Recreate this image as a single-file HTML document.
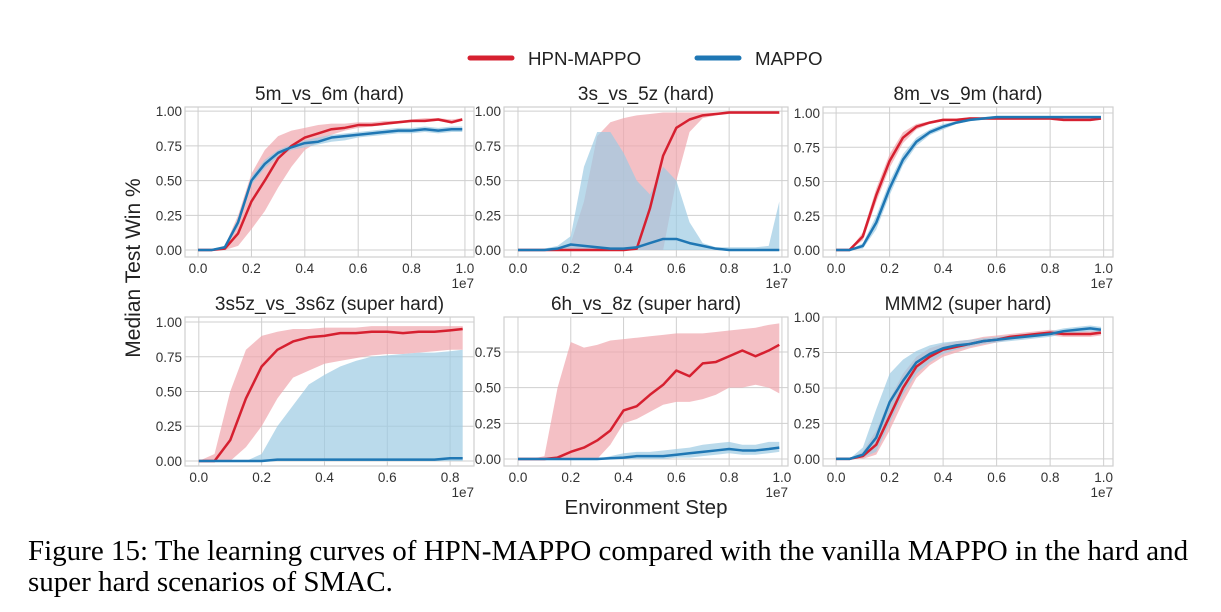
<!DOCTYPE html>
<html><head><meta charset="utf-8">
<style>
body{margin:0;background:#fff;width:1221px;height:612px;overflow:hidden;font-family:"Liberation Sans",sans-serif}
svg{position:absolute;left:0;top:0}
.cap{position:absolute;left:28px;font-family:"Liberation Serif",serif;font-size:29px;line-height:30px;color:#000;white-space:nowrap}
</style></head><body>
<svg id="fig" width="1221" height="612"></svg>
<div class="cap" style="top:536px">Figure 15: The learning curves of HPN-MAPPO compared with the vanilla MAPPO in the hard and</div>
<div class="cap" style="top:567px">super hard scenarios of SMAC.</div>
<script>
const xs21=[0,0.05,0.1,0.15,0.2,0.25,0.3,0.35,0.4,0.45,0.5,0.55,0.6,0.65,0.7,0.75,0.8,0.85,0.9,0.95,0.99];
const xs18=[0,0.05,0.1,0.15,0.2,0.25,0.3,0.35,0.4,0.45,0.5,0.55,0.6,0.65,0.7,0.75,0.8,0.84];
// panel 1: 5m_vs_6m
const p1RedMean=[0,0,0.01,0.12,0.35,0.5,0.66,0.75,0.81,0.84,0.87,0.88,0.9,0.9,0.91,0.92,0.93,0.93,0.94,0.92,0.94];
const p1RedLo=[0,0,0,0.03,0.15,0.28,0.45,0.6,0.72,0.78,0.83,0.86,0.88,0.89,0.9,0.91,0.92,0.92,0.93,0.91,0.93];
const p1RedHi=[0,0,0.03,0.25,0.55,0.72,0.82,0.86,0.88,0.9,0.91,0.91,0.92,0.92,0.93,0.93,0.94,0.95,0.95,0.94,0.95];
const p1BlueMean=[0,0,0.02,0.2,0.5,0.62,0.7,0.74,0.77,0.78,0.81,0.82,0.83,0.84,0.85,0.86,0.86,0.87,0.86,0.87,0.87];
const p1BlueLo=[0,0,0.01,0.17,0.47,0.59,0.67,0.72,0.74,0.76,0.78,0.79,0.81,0.82,0.83,0.84,0.84,0.85,0.84,0.85,0.85];
const p1BlueHi=[0,0,0.03,0.23,0.53,0.65,0.72,0.76,0.79,0.81,0.83,0.84,0.85,0.86,0.87,0.88,0.88,0.89,0.88,0.89,0.89];
// panel 2: 3s_vs_5z
const p2RedMean=[0,0,0,0,0,0,0,0,0,0.01,0.3,0.68,0.88,0.94,0.97,0.98,0.99,0.99,0.99,0.99,0.99];
const p2RedLo=[0,0,0,0,0,0,0,0,0,0,0,0,0.5,0.85,0.95,0.97,0.98,0.98,0.98,0.98,0.98];
const p2RedHi=[0,0,0,0,0.05,0.35,0.82,0.92,0.95,0.97,0.98,0.99,0.99,0.99,0.99,0.99,0.99,0.99,0.99,0.99,0.99];
const p2BlueMean=[0,0,0,0.01,0.04,0.03,0.02,0.01,0.01,0.02,0.05,0.08,0.08,0.05,0.03,0.01,0,0,0,0,0];
const p2BlueLo=[0,0,0,0,0,0,0,0,0,0,0,0,0,0,0,0,0,0,0,0,0];
const p2BlueHi=[0,0,0.01,0.03,0.1,0.6,0.85,0.85,0.7,0.5,0.4,0.6,0.5,0.2,0.05,0.02,0.02,0.02,0.02,0.03,0.35];
// panel 3: 8m_vs_9m
const p3RedMean=[0,0,0.1,0.4,0.65,0.82,0.9,0.93,0.95,0.95,0.96,0.96,0.96,0.96,0.96,0.96,0.96,0.95,0.95,0.95,0.96];
const p3RedLo=[0,0,0.07,0.35,0.6,0.78,0.88,0.92,0.94,0.94,0.95,0.95,0.95,0.95,0.95,0.95,0.95,0.94,0.94,0.94,0.95];
const p3RedHi=[0,0,0.13,0.45,0.7,0.86,0.92,0.94,0.96,0.96,0.97,0.97,0.97,0.97,0.97,0.97,0.97,0.96,0.96,0.96,0.97];
const p3BlueMean=[0,0,0.03,0.2,0.45,0.66,0.79,0.86,0.9,0.93,0.95,0.96,0.97,0.97,0.97,0.97,0.97,0.97,0.97,0.97,0.97];
const p3BlueLo=[0,0,0.01,0.15,0.4,0.62,0.76,0.84,0.88,0.92,0.94,0.95,0.96,0.96,0.96,0.96,0.96,0.96,0.96,0.96,0.96];
const p3BlueHi=[0,0,0.05,0.25,0.5,0.7,0.82,0.88,0.92,0.94,0.96,0.97,0.98,0.98,0.98,0.98,0.98,0.98,0.98,0.98,0.98];
// panel 4: 3s5z_vs_3s6z
const p4RedMean=[0,0,0.15,0.45,0.68,0.8,0.86,0.89,0.9,0.92,0.92,0.93,0.93,0.92,0.93,0.93,0.94,0.95];
const p4RedLo=[0,0,0,0.1,0.25,0.45,0.6,0.65,0.7,0.72,0.74,0.76,0.77,0.77,0.78,0.79,0.8,0.8];
const p4RedHi=[0,0.05,0.5,0.8,0.9,0.93,0.95,0.95,0.96,0.96,0.96,0.97,0.97,0.97,0.97,0.97,0.97,0.97];
const p4BlueMean=[0,0,0,0,0,0.01,0.01,0.01,0.01,0.01,0.01,0.01,0.01,0.01,0.01,0.01,0.02,0.02];
const p4BlueLo=[0,0,0,0,0,0,0,0,0,0,0,0,0,0,0,0,0,0];
const p4BlueHi=[0,0,0,0,0.05,0.25,0.4,0.55,0.62,0.68,0.72,0.75,0.76,0.77,0.78,0.78,0.79,0.8];
// panel 5: 6h_vs_8z
const p5RedMean=[0,0,0,0.01,0.05,0.08,0.13,0.2,0.34,0.37,0.45,0.52,0.62,0.58,0.67,0.68,0.72,0.76,0.72,0.76,0.8];
const p5RedLo=[0,0,0,0,0,0,0,0.1,0.25,0.28,0.33,0.38,0.4,0.4,0.42,0.45,0.5,0.5,0.52,0.5,0.46];
const p5RedHi=[0,0,0.02,0.5,0.82,0.78,0.8,0.83,0.84,0.85,0.86,0.87,0.88,0.88,0.88,0.89,0.9,0.91,0.92,0.94,0.95];
const p5BlueMean=[0,0,0,0,0,0,0,0.005,0.01,0.02,0.02,0.02,0.03,0.04,0.05,0.06,0.07,0.06,0.06,0.07,0.08];
const p5BlueLo=[0,0,0,0,0,0,0,0,0,0,0,0,0.01,0.01,0.02,0.03,0.04,0.03,0.03,0.04,0.05];
const p5BlueHi=[0,0,0,0,0,0,0,0.02,0.04,0.05,0.05,0.06,0.07,0.08,0.1,0.11,0.12,0.1,0.1,0.12,0.12];
// panel 6: MMM2
const p6RedMean=[0,0,0.02,0.1,0.3,0.5,0.65,0.72,0.77,0.79,0.81,0.83,0.84,0.86,0.87,0.88,0.89,0.88,0.88,0.88,0.89];
const p6RedLo=[0,0,0,0.03,0.2,0.4,0.57,0.66,0.72,0.75,0.78,0.8,0.82,0.84,0.85,0.86,0.87,0.86,0.86,0.86,0.87];
const p6RedHi=[0,0,0.05,0.2,0.42,0.6,0.72,0.78,0.81,0.83,0.84,0.86,0.87,0.88,0.89,0.9,0.91,0.9,0.9,0.9,0.91];
const p6BlueMean=[0,0,0.03,0.15,0.4,0.55,0.68,0.74,0.78,0.8,0.81,0.83,0.84,0.85,0.86,0.87,0.88,0.9,0.91,0.92,0.91];
const p6BlueLo=[0,0,0.01,0.05,0.25,0.45,0.6,0.68,0.74,0.77,0.79,0.81,0.82,0.83,0.84,0.85,0.86,0.88,0.89,0.9,0.89];
const p6BlueHi=[0,0,0.08,0.35,0.6,0.7,0.76,0.8,0.82,0.83,0.84,0.85,0.86,0.87,0.88,0.89,0.9,0.92,0.93,0.94,0.93];
const xTicks=[0,0.2,0.4,0.6,0.8,1.0];
const xTicks4=[0,0.2,0.4,0.6,0.8];
const yTicks=[0,0.25,0.5,0.75,1.0];
const yTicks5=[0,0.25,0.5,0.75];

const NS="http://www.w3.org/2000/svg";
const svg=document.getElementById('fig');
function mk(tag,attrs,parent){const e=document.createElementNS(NS,tag);for(const k in attrs)e.setAttribute(k,attrs[k]);(parent||svg).appendChild(e);return e;}
const RED="#d62030",BLUE="#1f77b4";
const panels=[
 {t:"5m_vs_6m (hard)",box:[185,107,474,257],xl:[-0.049,1.034],yl:[-0.05,1.03],xs:xs21,xt:xTicks,yt:yTicks,r:[p1RedMean,p1RedLo,p1RedHi],b:[p1BlueMean,p1BlueLo,p1BlueHi]},
 {t:"3s_vs_5z (hard)",box:[504,107,788,257],xl:[-0.053,1.023],yl:[-0.05,1.03],xs:xs21,xt:xTicks,yt:yTicks,r:[p2RedMean,p2RedLo,p2RedHi],b:[p2BlueMean,p2BlueLo,p2BlueHi]},
 {t:"8m_vs_9m (hard)",box:[823,107,1113,257],xl:[-0.049,1.035],yl:[-0.051,1.044],xs:xs21,xt:xTicks,yt:yTicks,r:[p3RedMean,p3RedLo,p3RedHi],b:[p3BlueMean,p3BlueLo,p3BlueHi]},
 {t:"3s5z_vs_3s6z (super hard)",box:[185,317,474,466],xl:[-0.044,0.876],yl:[-0.036,1.036],xs:xs18,xt:xTicks4,yt:yTicks,r:[p4RedMean,p4RedLo,p4RedHi],b:[p4BlueMean,p4BlueLo,p4BlueHi]},
 {t:"6h_vs_8z (super hard)",box:[504,317,788,466],xl:[-0.053,1.023],yl:[-0.049,0.995],xs:xs21,xt:xTicks,yt:yTicks5,r:[p5RedMean,p5RedLo,p5RedHi],b:[p5BlueMean,p5BlueLo,p5BlueHi]},
 {t:"MMM2 (super hard)",box:[823,317,1113,466],xl:[-0.049,1.035],yl:[-0.05,1.0],xs:xs21,xt:xTicks,yt:yTicks,r:[p6RedMean,p6RedLo,p6RedHi],b:[p6BlueMean,p6BlueLo,p6BlueHi]}
];
panels.forEach((p,i)=>{
 const [x0,y0,x1,y1]=p.box;
 const X=v=>x0+(v-p.xl[0])/(p.xl[1]-p.xl[0])*(x1-x0);
 const Y=v=>y1-(v-p.yl[0])/(p.yl[1]-p.yl[0])*(y1-y0);
 const g=mk('g',{});
 
 
 p.xt.forEach(v=>{const l=mk('line',{x1:X(v),x2:X(v),y1:y0,y2:y1,stroke:'#cfcfcf','stroke-width':1},g);
  const t=mk('text',{x:X(v),y:y1+16,'text-anchor':'middle','font-size':13.5,fill:'#333'},g);t.textContent=v.toFixed(1);});
 p.yt.forEach(v=>{const l=mk('line',{x1:x0,x2:x1,y1:Y(v),y2:Y(v),stroke:'#cfcfcf','stroke-width':1},g);
  const t=mk('text',{x:x0-3,y:Y(v)+5,'text-anchor':'end','font-size':13.5,fill:'#333'},g);t.textContent=v.toFixed(2);});
 const e=mk('text',{x:x1,y:y1+31,'text-anchor':'end','font-size':13.5,fill:'#333'},g);e.textContent='1e7';
 
 const tt=mk('text',{x:(x0+x1)/2,y:y0-7,'text-anchor':'middle','font-size':19,fill:'#222'},g);tt.textContent=p.t;
 
 [[p.r,RED,'#f0a5ad','hpn-mappo'],[p.b,BLUE,'#9ccae3','mappo']].forEach(([s,c,fc,nm])=>{
  const [m,lo,hi]=s;
  let d='M'+p.xs.map((x,k)=>X(x)+','+Y(hi[k])).join('L');
  for(let k=p.xs.length-1;k>=0;k--)d+='L'+X(p.xs[k])+','+Y(lo[k]);
  const a=mk('path',{d:d+'Z',fill:fc,'fill-opacity':0.7,stroke:'none'},g);
  
 });
 [[p.r,RED,'hpn-mappo'],[p.b,BLUE,'mappo']].forEach(([s,c,nm])=>{
  const l=mk('polyline',{points:p.xs.map((x,k)=>X(x)+','+Y(s[0][k])).join(' '),fill:'none',stroke:c,'stroke-width':2.5,'stroke-linejoin':'round'},g);
  
 });
 const r=mk('rect',{x:x0,y:y0,width:x1-x0,height:y1-y0,fill:'none',stroke:'#cfcfcf','stroke-width':1.2},g);
 
});
const yl=mk('text',{x:140,y:268,'text-anchor':'middle','font-size':21,fill:'#222',transform:'rotate(-90 140 268)'});yl.textContent='Median Test Win %';

const xl=mk('text',{x:646,y:514,'text-anchor':'middle','font-size':20.5,fill:'#222'});xl.textContent='Environment Step';

const lg=mk('g',{});

const l1=mk('line',{x1:470,x2:512,y1:58,y2:58,stroke:RED,'stroke-width':5,'stroke-linecap':'round'},lg);

const t1=mk('text',{x:528,y:65,'font-size':18.7,fill:'#222'},lg);t1.textContent='HPN-MAPPO';

const l2=mk('line',{x1:697,x2:739,y1:58,y2:58,stroke:BLUE,'stroke-width':5,'stroke-linecap':'round'},lg);

const t2=mk('text',{x:755,y:65,'font-size':18.7,fill:'#222'},lg);t2.textContent='MAPPO';

</script>
</body></html>
